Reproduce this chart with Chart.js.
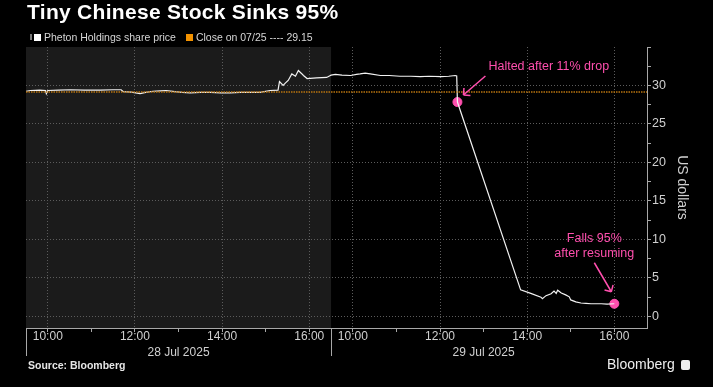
<!DOCTYPE html>
<html>
<head>
<meta charset="utf-8">
<script src="https://cdn.jsdelivr.net/npm/chart.js@4.4.1/dist/chart.umd.min.js"></script>
<style>
  html, body { margin: 0; padding: 0; background: #000; }
  #wrap { position: relative; width: 713px; height: 387px; overflow: hidden; font-family: "Liberation Sans", Arial, sans-serif; }
  #chart { position: absolute; left: 0; top: 0; }
  .title { position: absolute; left: 27px; top: 0px; color: #fff; font-weight: bold; font-size: 21px; letter-spacing: 0.3px; white-space: nowrap; }
  .legend { position: absolute; left: 30px; top: 30px; color: #d6d6d6; font-size: 10.5px; white-space: nowrap; }
  .legend span { display: inline-block; vertical-align: middle; }
  .sw { width: 7px; height: 7px; margin-right: 3px; }
  .pin { width: 2px; height: 6px; background: #777; margin-right: 2px; }
  .source { position: absolute; left: 28px; top: 359px; color: #e6e6e6; font-weight: bold; font-size: 10.5px; }
  .brand { position: absolute; left: 607px; top: 356px; color: #eee; font-size: 14px; white-space: nowrap; }
  .brand i { display: inline-block; width: 9px; height: 10px; background: #eee; border-radius: 2px; margin-left: 6px; vertical-align: -1px; }
</style>
</head>
<body>
<div id="wrap">
  <canvas id="chart" width="713" height="387"></canvas>
  <div class="title">Tiny Chinese Stock Sinks 95%</div>
  <div class="legend"><span class="pin"></span><span class="sw" style="background:#fff"></span><span>Pheton Holdings share price</span><span style="width:10px"></span><span class="sw" style="background:#f39200"></span><span>Close on 07/25 ---- 29.15</span></div>
  <div class="source">Source: Bloomberg</div>
  <div class="brand">Bloomberg<i></i></div>
</div>
<script>
// 28 Jul 2025 (day 0) and 29 Jul 2025 (day 1), US Eastern time
const dayLabels = ["28 Jul 2025", "29 Jul 2025"];

const times28 = ["9:30","9:36","9:49","9:57","9:58","10:00","10:15","10:31","10:50","11:12","11:30","11:41","11:44","11:55",
  "12:07","12:15","12:25","12:35","12:43","12:55","13:05","13:16","13:30","13:44","13:58","14:11","14:25","14:39","14:52",
  "15:06","15:17","15:19","15:24","15:27","15:31","15:36","15:41","15:45","15:50","15:52","15:57","16:10","16:24","16:29"];
const prices28 = [29.25,29.35,29.4,29.35,28.95,29.35,29.4,29.45,29.4,29.4,29.45,29.45,29.2,29.15,
  28.95,29.1,29.25,29.3,29.35,29.2,29.1,29.05,29.1,29.1,29.05,29.05,29.1,29.1,29.1,
  29.35,29.4,30.5,30.0,30.3,30.65,31.5,31.2,31.95,31.5,31.3,30.9,31.0,31.05,31.3];

const times29 = ["9:30","9:36","9:45","9:57","10:05","10:10","10:17","10:24","10:38","10:50","11:05","11:20","11:33","11:45",
  "12:01","12:12","12:21","12:23","12:24","13:51","14:05","14:19","14:21","14:26","14:33","14:37","14:40","14:42","14:47",
  "14:53","14:58","15:00","15:07","15:14","15:21","15:28","15:42","15:50","16:00"];
const prices29 = [31.35,31.45,31.35,31.3,31.45,31.5,31.6,31.5,31.3,31.3,31.2,31.2,31.15,31.2,
  31.15,31.2,31.3,31.25,27.85,3.45,3.0,2.5,2.3,2.7,2.95,3.3,3.0,3.4,3.05,
  2.8,2.55,2.15,1.9,1.75,1.7,1.65,1.65,1.6,1.65];

const closePrice = 29.15;           // close on 07/25
const markerTimes = ["12:24", "16:00"];  // on 29 Jul
const markerPrices = [27.85, 1.65];

const hourLabels = ["10:00","11:00","12:00","13:00","14:00","15:00","16:00"];
const yTickValues = [0,2.5,5,7.5,10,12.5,15,17.5,20,22.5,25,27.5,30,32.5,35];

// session axis: minutes since 9:30, each day gets 420 minutes (9:30 - 16:30)
const DAY_LEN = 420;
const X_MAX = 855;
function toX(day, t) {
  const [h, m] = t.split(":").map(Number);
  return day * DAY_LEN + h * 60 + m - 570;
}

const pts28 = times28.map((t, i) => ({ x: toX(0, t), y: prices28[i] }));
const pts29 = times29.map((t, i) => ({ x: toX(1, t), y: prices29[i] }));
const markers = markerTimes.map((t, i) => ({ x: toX(1, t), y: markerPrices[i] }));
const hourTicks = [0, 1].flatMap((d) => hourLabels.map((t) => toX(d, t)));
const dayCenters = [0, 1].map((d) => d * DAY_LEN + DAY_LEN / 2);

const PINK = "#ff4fae";
const GRID = "#5c5c5c";
const AXIS = "#a8a8a8";
const TXT = "#d0d0d0";

const notes = [
  { marker: 0, lines: ["Halted after 11% drop"], align: "left", dx: 31, dy: -35, from: [28, -26], to: [6, -7] },
  { marker: 1, lines: ["Falls 95%", "after resuming"], align: "center", dx: -20, dy: -65, from: [-20, -41], to: [-3, -12] },
];

const sessionBands = {
  id: "sessionBands",
  beforeDraw(chart) {
    const { ctx, chartArea: a, scales: { x } } = chart;
    ctx.save();
    ctx.fillStyle = "#1b1b1b";
    const x0 = x.getPixelForValue(0), x1 = x.getPixelForValue(DAY_LEN);
    ctx.fillRect(x0, a.top, x1 - x0, a.bottom - a.top);
    ctx.restore();
  },
  afterDraw(chart) {
    const { ctx, chartArea: a, scales: { x } } = chart;
    ctx.save();
    ctx.strokeStyle = AXIS;
    ctx.lineWidth = 1;
    for (const v of [0, DAY_LEN]) {
      const px = Math.round(x.getPixelForValue(v)) + 0.5;
      ctx.beginPath();
      ctx.moveTo(px, a.bottom);
      ctx.lineTo(px, a.bottom + 28);
      ctx.stroke();
    }
    ctx.restore();
  },
};

const callouts = {
  id: "callouts",
  afterDatasetsDraw(chart) {
    const { ctx, scales: { x, y } } = chart;
    ctx.save();
    ctx.strokeStyle = PINK;
    ctx.fillStyle = PINK;
    ctx.lineWidth = 1.5;
    ctx.font = '12.5px "Liberation Sans", Arial, sans-serif';
    ctx.textBaseline = "middle";
    for (const n of notes) {
      const m = markers[n.marker];
      const px = x.getPixelForValue(m.x), py = y.getPixelForValue(m.y);
      ctx.textAlign = n.align;
      n.lines.forEach((l, i) => ctx.fillText(l, px + n.dx, py + n.dy + i * 15));
      const fx = px + n.from[0], fy = py + n.from[1];
      const tx = px + n.to[0], ty = py + n.to[1];
      ctx.beginPath();
      ctx.moveTo(fx, fy);
      ctx.lineTo(tx, ty);
      const ang = Math.atan2(ty - fy, tx - fx);
      for (const s of [-1, 1]) {
        ctx.moveTo(tx, ty);
        ctx.lineTo(tx - 7 * Math.cos(ang + s * Math.PI / 4), ty - 7 * Math.sin(ang + s * Math.PI / 4));
      }
      ctx.stroke();
    }
    ctx.restore();
  },
};

const font = (size) => ({ family: '"Liberation Sans", Arial, sans-serif', size });

new Chart(document.getElementById("chart"), {
  type: "line",
  data: {
    datasets: [
      { data: [{ x: 0, y: closePrice }, { x: X_MAX, y: closePrice }], borderColor: "#b8740f", borderWidth: 1.5, borderDash: [1.5, 1], pointRadius: 0 },
      { data: pts28.concat(pts29), borderColor: "#f2f2f2", borderWidth: 1.2, pointRadius: 0, tension: 0 },
      { type: "scatter", data: markers, backgroundColor: PINK, borderColor: PINK, pointRadius: 4.5 },
    ],
  },
  options: {
    responsive: false,
    animation: false,
    events: [],
    layout: { padding: { left: 26, top: 47, right: 0, bottom: 28 } },
    plugins: { legend: { display: false }, tooltip: { enabled: false } },
    scales: {
      x: {
        type: "linear", min: 0, max: X_MAX, position: "bottom",
        afterBuildTicks: (s) => { s.ticks = hourTicks.map((v) => ({ value: v })); },
        afterFit: (s) => { s.height = 16; },
        grid: {
          color: (c) => (hourLabels.indexOf(String(c.tick && labelFor(c.tick.value))) % 2 === 0 ? GRID : "transparent"),
          tickColor: AXIS, tickLength: 4,
        },
        border: { color: AXIS, dash: [1, 2] },
        ticks: {
          autoSkip: false, maxRotation: 0, padding: -3, color: TXT, font: font(12),
          callback: (v) => { const l = labelFor(v); return hourLabels.indexOf(l) % 2 === 0 ? l : ""; },
        },
      },
      x2: {
        type: "linear", min: 0, max: X_MAX, position: "bottom",
        afterBuildTicks: (s) => { s.ticks = dayCenters.map((v) => ({ value: v })); },
        afterFit: (s) => { s.height = 15; },
        grid: { display: false, drawTicks: false },
        border: { display: false },
        ticks: { autoSkip: false, maxRotation: 0, padding: 1, color: TXT, font: font(12), callback: (v, i) => dayLabels[i] },
      },
      y: {
        type: "linear", position: "right", min: -1.5, max: 35,
        afterBuildTicks: (s) => { s.ticks = yTickValues.map((v) => ({ value: v })); },
        afterFit: (s) => { s.width = 66; },
        grid: { color: (c) => (c.tick && c.tick.value % 5 === 0 && c.tick.value < 35 ? GRID : "transparent"), tickColor: AXIS, tickLength: 4 },
        border: { color: AXIS, dash: [1, 2] },
        ticks: { padding: 1, color: TXT, font: font(12.5), callback: (v) => (v % 5 === 0 && v < 35 ? String(v) : "") },
        title: { display: true, text: "US dollars", color: TXT, font: font(14), padding: { top: 23, bottom: 0 } },
      },
    },
  },
  plugins: [sessionBands, callouts],
});

function labelFor(v) {
  const m = v % DAY_LEN + 570;
  return `${Math.floor(m / 60)}:${String(m % 60).padStart(2, "0")}`;
}
</script>
</body>
</html>
